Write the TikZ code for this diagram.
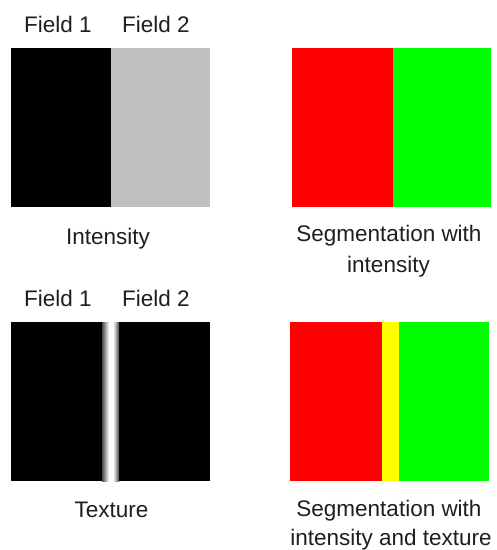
\documentclass[tikz,border=0pt]{standalone}
\usepackage{fontspec}
\setmainfont{Liberation Sans}
\definecolor{fieldgray}{HTML}{C0C0C0}
\definecolor{segred}{HTML}{FF0000}
\definecolor{seggreen}{HTML}{00FF00}
\definecolor{segyellow}{HTML}{FFFF00}
\tikzset{
  lbl/.style={anchor=base, inner sep=0pt, font=\fontsize{22.5}{30}\selectfont, text=black!88}
}
\begin{document}
\begin{tikzpicture}[x=1pt,y=-1pt]
\useasboundingbox[fill=white] (0,0) rectangle (497,550);

% --- intensity fields ---
\fill[black] (11,48) rectangle (111,207);
\fill[fieldgray] (111,48) rectangle (210,207);
\node[lbl] (f1a) at (58,32.5) {Field 1};
\node[lbl] (f2a) at (156,32.5) {Field 2};
\node[lbl] (inten) at (108,244.5) {Intensity};

% --- segmentation with intensity ---
\fill[segred] (292,48) rectangle (393,207);
\fill[seggreen] (393,48) rectangle (491,207);
\node[lbl] (sega1) at (389,241.5) {Segmentation with};
\node[lbl] (sega2) at (388.5,272) {intensity};

% --- texture fields ---
\fill[black] (11,322) rectangle (102,481);
\fill[black] (119,322) rectangle (210,481);
\shade[left color=black!70, right color=white] (102,322) rectangle (109,481);
\fill[white] (109,322) rectangle (113,481);
\shade[left color=white, right color=black!70] (113,322) rectangle (119,481);
\node[lbl] (f1b) at (58,306.5) {Field 1};
\node[lbl] (f2b) at (156,306.5) {Field 2};
\node[lbl] (tex) at (111.5,517.5) {Texture};

% --- segmentation with intensity and texture ---
\fill[segred] (289.5,322) rectangle (382,481);
\fill[segyellow] (382,322) rectangle (399,481);
\fill[seggreen] (399,322) rectangle (489,481);
\node[lbl] (segb1) at (389,516.5) {Segmentation with};
\node[lbl] (segb2) at (391,545.5) {intensity and texture};
\end{tikzpicture}
\end{document}
